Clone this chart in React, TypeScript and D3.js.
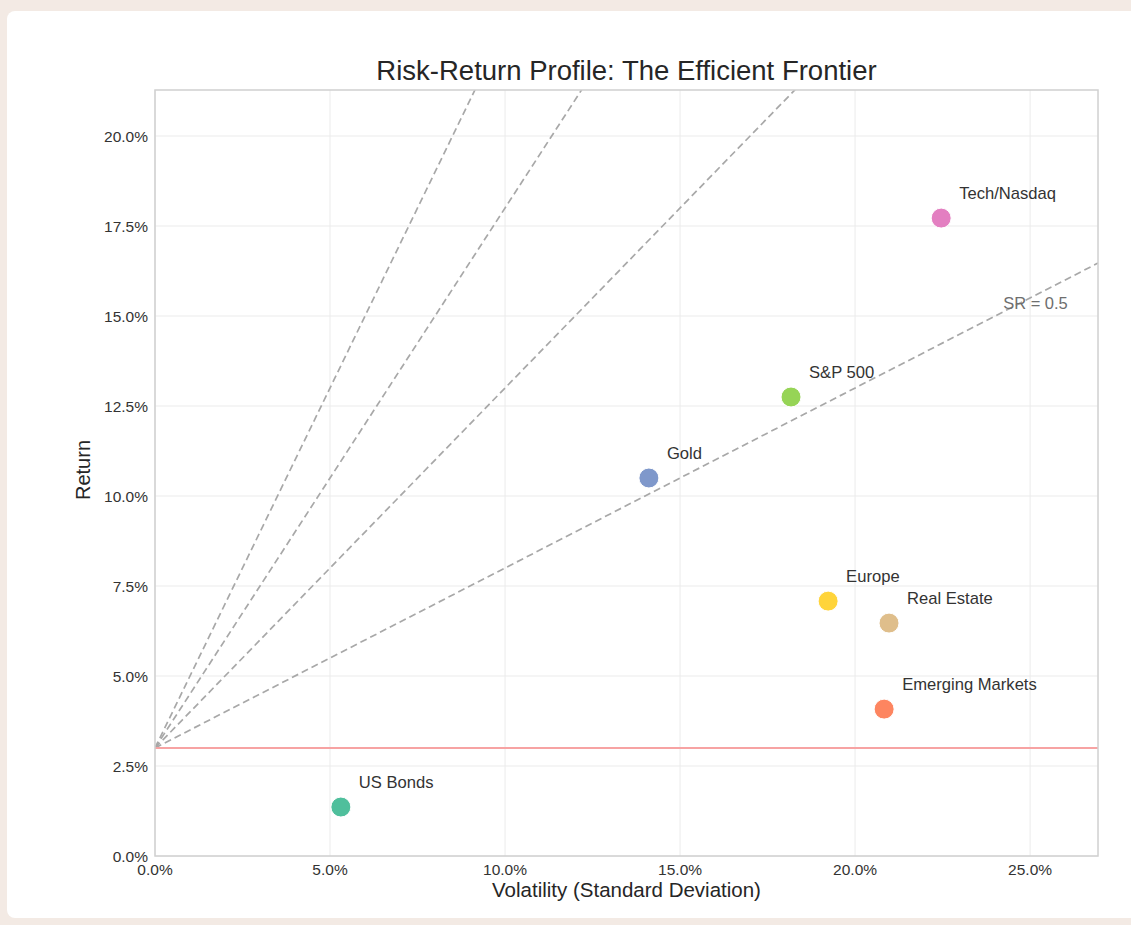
import React from "react";
import * as d3 from "d3";

const assets = ["US Bonds", "Gold", "S&P 500", "Tech/Nasdaq", "Europe", "Real Estate", "Emerging Markets"];
const volatility = [0.0531, 0.1411, 0.1817, 0.2246, 0.1923, 0.2097, 0.2083];
const returns = [0.0136, 0.105, 0.1275, 0.1772, 0.0708, 0.0647, 0.0408];
const colors = ["#4fbf9c", "#7f98cb", "#96d456", "#e37fc1", "#ffd43a", "#dfbe8b", "#fd8560"];
const sharpeRatios = [0.5, 1.0, 1.5, 2.0];
const riskFree = 0.03;
const xTicks = [0, 0.05, 0.1, 0.15, 0.2, 0.25];
const yTicks = [0, 0.025, 0.05, 0.075, 0.1, 0.125, 0.15, 0.175, 0.2];

const W = 1131, H = 925;
const L = 155, R = 1098, T = 90, B = 856;
const font = "'Liberation Sans', Arial, sans-serif";

export default function App() {
  const x = d3.scaleLinear().domain([0, 0.2694]).range([L, R]);
  const y = d3.scaleLinear().domain([0, 0.21278]).range([B, T]);
  const fmt = d3.format(".1%");
  const line = d3.line<[number, number]>().x(d => x(d[0])).y(d => y(d[1]));
  return (
    <svg width={W} height={H} style={{ position: "absolute", left: 0, top: 0 }} fontFamily={font}>
      <rect x={0} y={0} width={W} height={H} fill="#f3eae4" />
      <rect x={7} y={11} width={W + 20} height={907} rx={8} fill="#ffffff" />
      <defs>
        <clipPath id="plot"><rect x={L} y={T} width={R - L} height={B - T} /></clipPath>
      </defs>
      {/* grid */}
      {xTicks.map(t => <line key={"gx" + t} x1={x(t)} x2={x(t)} y1={T} y2={B} stroke="#ebebeb" strokeWidth={1} />)}
      {yTicks.map(t => <line key={"gy" + t} x1={L} x2={R} y1={y(t)} y2={y(t)} stroke="#ebebeb" strokeWidth={1} />)}
      <g clipPath="url(#plot)">
        {sharpeRatios.map(sr => (
          <path key={"sr" + sr} d={line([[0, riskFree], [0.2694, riskFree + sr * 0.2694]]) || ""} fill="none" stroke="#a8a8a8" strokeWidth={1.7} strokeDasharray="7,4" />
        ))}
        <line x1={L} x2={R} y1={y(riskFree)} y2={y(riskFree)} stroke="#f7a3a3" strokeWidth={2} />
      </g>
      <text x={x(0.2423)} y={y(0.1519)} fontSize={16.5} fill="#6e6e6e">SR = 0.5</text>
      {/* points */}
      {assets.map((a, i) => (
        <g key={a}>
          <circle cx={x(volatility[i])} cy={y(returns[i])} r={10} fill={colors[i]} stroke="#ffffff" strokeWidth={1} />
          <text x={x(volatility[i]) + 18} y={y(returns[i]) - 19} fontSize={16.6} fill="#333333">{a}</text>
        </g>
      ))}
      {/* frame */}
      <rect x={L} y={T} width={R - L} height={B - T} fill="none" stroke="#d0d0d0" strokeWidth={1.5} />
      {/* ticks */}
      {xTicks.map(t => (
        <text key={"tx" + t} x={x(t)} y={B + 19} fontSize={15.5} fill="#333333" textAnchor="middle">{fmt(t)}</text>
      ))}
      {yTicks.map(t => (
        <text key={"ty" + t} x={L - 7} y={y(t) + 5.5} fontSize={15.5} fill="#333333" textAnchor="end">{fmt(t)}</text>
      ))}
      <text x={(L + R) / 2} y={80} fontSize={27.5} fill="#262626" textAnchor="middle">Risk-Return Profile: The Efficient Frontier</text>
      <text x={(L + R) / 2} y={897} fontSize={20.5} fill="#262626" textAnchor="middle">Volatility (Standard Deviation)</text>
      <text transform={`translate(90, ${(T + B) / 2 - 3}) rotate(-90)`} fontSize={20} fill="#262626" textAnchor="middle">Return</text>
    </svg>
  );
}
